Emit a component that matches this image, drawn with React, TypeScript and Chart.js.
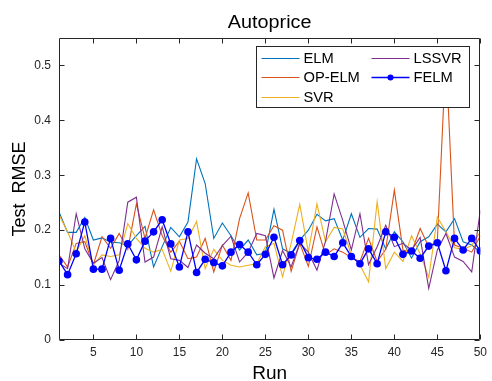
import React, { useEffect, useRef } from 'react';
import { Chart, registerables } from 'chart.js';

Chart.register(...registerables);

const titleText = 'Autoprice';
const xTitle = 'Run';
const yTitle = 'Test  RMSE';

const runs = [1,2,3,4,5,6,7,8,9,10,11,12,13,14,15,16,17,18,19,20,21,22,23,24,25,26,27,28,29,30,31,32,33,34,35,36,37,38,39,40,41,42,43,44,45,46,47,48,49,50];

const elm = [0.233,0.196,0.196,0.223,0.182,0.186,0.178,0.177,0.172,0.19,0.207,0.133,0.17,0.205,0.188,0.215,0.33,0.285,0.185,0.213,0.19,0.164,0.182,0.155,0.158,0.238,0.166,0.158,0.182,0.2,0.229,0.217,0.221,0.182,0.23,0.187,0.203,0.202,0.166,0.197,0.179,0.149,0.179,0.188,0.211,0.197,0.221,0.179,0.173,0.16];
const opElm = [0.155,0.133,0.176,0.179,0.137,0.188,0.167,0.194,0.165,0.248,0.185,0.237,0.19,0.16,0.18,0.148,0.151,0.185,0.124,0.173,0.145,0.221,0.268,0.182,0.182,0.208,0.2,0.125,0.176,0.134,0.206,0.155,0.166,0.16,0.15,0.143,0.185,0.143,0.165,0.273,0.164,0.16,0.203,0.17,0.18,0.52,0.173,0.167,0.16,0.19];
const svr = [0.228,0.197,0.16,0.19,0.137,0.155,0.152,0.155,0.212,0.185,0.167,0.16,0.165,0.125,0.182,0.185,0.216,0.13,0.165,0.145,0.136,0.133,0.136,0.139,0.17,0.176,0.115,0.176,0.247,0.16,0.248,0.179,0.205,0.202,0.155,0.137,0.106,0.252,0.13,0.16,0.143,0.19,0.157,0.114,0.224,0.197,0.168,0.165,0.172,0.197];
const lssvr = [0.14,0.13,0.23,0.166,0.14,0.15,0.11,0.145,0.251,0.26,0.142,0.151,0.206,0.148,0.145,0.132,0.173,0.158,0.148,0.172,0.189,0.142,0.16,0.194,0.19,0.113,0.163,0.133,0.176,0.16,0.127,0.18,0.266,0.218,0.164,0.23,0.137,0.17,0.209,0.17,0.176,0.164,0.187,0.094,0.164,0.194,0.151,0.143,0.124,0.236];
const felm = [0.144,0.119,0.157,0.215,0.129,0.129,0.185,0.127,0.175,0.146,0.18,0.197,0.219,0.175,0.133,0.197,0.123,0.147,0.141,0.135,0.16,0.174,0.16,0.137,0.156,0.187,0.137,0.155,0.181,0.15,0.147,0.16,0.152,0.177,0.152,0.139,0.166,0.139,0.197,0.187,0.156,0.162,0.149,0.171,0.177,0.126,0.185,0.164,0.185,0.162];

const seriesNames = ['ELM', 'OP-ELM', 'SVR', 'LSSVR', 'FELM'];
const seriesColors = ['#0072BD', '#D95319', '#EDB120', '#7E2F8E', '#0000FF'];

const xTicks = [5,10,15,20,25,30,35,40,45,50];
const yTicks = [0,0.1,0.2,0.3,0.4,0.5];
const yTickLabels = ['0','0.1','0.2','0.3','0.4','0.5'];

const FONT = '"Liberation Sans", Arial, Helvetica, sans-serif';

const toPoints = (vals: number[]) => vals.map((v, i) => ({ x: runs[i], y: v }));

const framePlugin = {
  id: 'matlabFrame',
  afterDatasetsDraw(chart: any) {
    const { ctx, chartArea, scales } = chart;
    const { left, right, top, bottom } = chartArea;
    const x = scales.x;
    const y = scales.y;
    ctx.save();
    ctx.strokeStyle = '#262626';
    ctx.lineWidth = 1;
    const L = Math.round(left) + 0.5;
    const R = Math.round(right) - 0.5;
    const T = Math.round(top) + 0.5;
    const B = Math.round(bottom) - 0.5;
    ctx.beginPath();
    ctx.rect(L, T, R - L, B - T);
    const tl = 5;
    xTicks.forEach((v) => {
      const px = Math.round(x.getPixelForValue(v)) + 0.5;
      ctx.moveTo(px, B);
      ctx.lineTo(px, B - tl);
      ctx.moveTo(px, T);
      ctx.lineTo(px, T + tl);
    });
    yTicks.forEach((v) => {
      const py = Math.round(y.getPixelForValue(v)) + 0.5;
      ctx.moveTo(L, py);
      ctx.lineTo(L + tl, py);
      ctx.moveTo(R, py);
      ctx.lineTo(R - tl, py);
    });
    ctx.stroke();

    // title
    ctx.save();
    ctx.fillStyle = '#000';
    ctx.font = `18px ${FONT}`;
    ctx.textAlign = 'center';
    ctx.textBaseline = 'middle';
    ctx.translate((left + right) / 2, 23);
    ctx.scale(1.1, 1);
    ctx.fillText(titleText, 0, 0);
    ctx.restore();

    // legend
    const bx = Math.round(right) - 10.5;
    const bw = 213;
    const bh = 61;
    const lx = bx - bw;
    const ly = Math.round(top) + 8.5;
    ctx.fillStyle = '#fff';
    ctx.fillRect(lx, ly, bw, bh);
    ctx.strokeStyle = '#262626';
    ctx.lineWidth = 1;
    ctx.strokeRect(lx, ly, bw, bh);
    ctx.font = `14px ${FONT}`;
    ctx.textAlign = 'left';
    ctx.textBaseline = 'middle';
    const colX = [5, 115];
    const rowY = [11, 30, 50];
    chart.data.datasets.forEach((ds: any, i: number) => {
      const col = Math.floor(i / 3);
      const row = i % 3;
      const x0 = lx + colX[col];
      const yy = Math.round(ly + rowY[row]) + 0.5;
      ctx.strokeStyle = ds.borderColor;
      ctx.lineWidth = ds.borderWidth;
      ctx.beginPath();
      ctx.moveTo(x0, yy);
      ctx.lineTo(x0 + 38, yy);
      ctx.stroke();
      if (ds.pointRadius > 0) {
        ctx.fillStyle = ds.pointBackgroundColor;
        ctx.beginPath();
        ctx.arc(x0 + 19, yy, ds.pointRadius * 0.8, 0, Math.PI * 2);
        ctx.fill();
      }
      ctx.fillStyle = '#000';
      ctx.save();
      ctx.translate(x0 + 42, yy + 1);
      ctx.scale(1.05, 1);
      ctx.fillText(ds.label, 0, 0);
      ctx.restore();
    });
    ctx.restore();
  },
};

export default function App() {
  const ref = useRef<HTMLCanvasElement | null>(null);
  useEffect(() => {
    if (!ref.current) return;
    const values = [elm, opElm, svr, lssvr, felm];
    const datasets = values.map((vals, i) => {
      const isF = seriesNames[i] === 'FELM';
      return {
        label: seriesNames[i],
        data: toPoints(vals),
        borderColor: seriesColors[i],
        backgroundColor: seriesColors[i],
        borderWidth: isF ? 1.3 : 1.1,
        pointRadius: isF ? 3.8 : 0,
        pointBackgroundColor: seriesColors[i],
        pointBorderWidth: 0,
        tension: 0,
        fill: false,
        order: values.length - i,
      };
    });
    const chart = new Chart(ref.current, {
      type: 'line',
      data: { datasets },
      plugins: [framePlugin],
      options: {
        animation: false,
        responsive: false,
        devicePixelRatio: 1,
        layout: { padding: { left: 0, top: 38, right: 9, bottom: 0 } },
        plugins: { legend: { display: false }, title: { display: false }, tooltip: { enabled: false } },
        scales: {
          x: {
            type: 'linear',
            min: 1,
            max: 50,
            grid: { display: false, drawTicks: false },
            border: { display: false },
            afterBuildTicks: (s: any) => { s.ticks = xTicks.map((v) => ({ value: v })); },
            afterFit: (s: any) => { s.height = 41; },
            ticks: {
              padding: 5,
              color: '#262626',
              font: { family: FONT, size: 12 },
              maxRotation: 0,
              autoSkip: false,
              callback: (v: any) => String(v),
            },
            title: {
              display: true,
              text: xTitle,
              color: '#000',
              font: { family: FONT, size: 19, lineHeight: 0.8 },
              padding: { top: 0, bottom: 0 },
            },
          },
          y: {
            type: 'linear',
            min: 0,
            max: 0.55,
            grid: { display: false, drawTicks: false },
            border: { display: false },
            afterBuildTicks: (s: any) => { s.ticks = yTicks.map((v) => ({ value: v })); },
            afterFit: (s: any) => { s.width = 59; },
            ticks: {
              padding: 8,
              color: '#262626',
              font: { family: FONT, size: 12 },
              autoSkip: false,
              callback: (v: any) => { const k = yTicks.indexOf(v); return k >= 0 ? yTickLabels[k] : ''; },
            },
            title: {
              display: true,
              text: yTitle,
              color: '#000',
              font: { family: FONT, size: 18, lineHeight: 0.8 },
              padding: { top: 13, bottom: 0 },
            },
          },
        },
      },
    });
    return () => chart.destroy();
  }, []);
  return (
    <div style={{ position: 'absolute', left: 0, top: 0, width: 492, height: 381, background: '#fff' }}>
      <canvas ref={ref} width={492} height={381} style={{ width: 492, height: 381, display: 'block' }} />
    </div>
  );
}
